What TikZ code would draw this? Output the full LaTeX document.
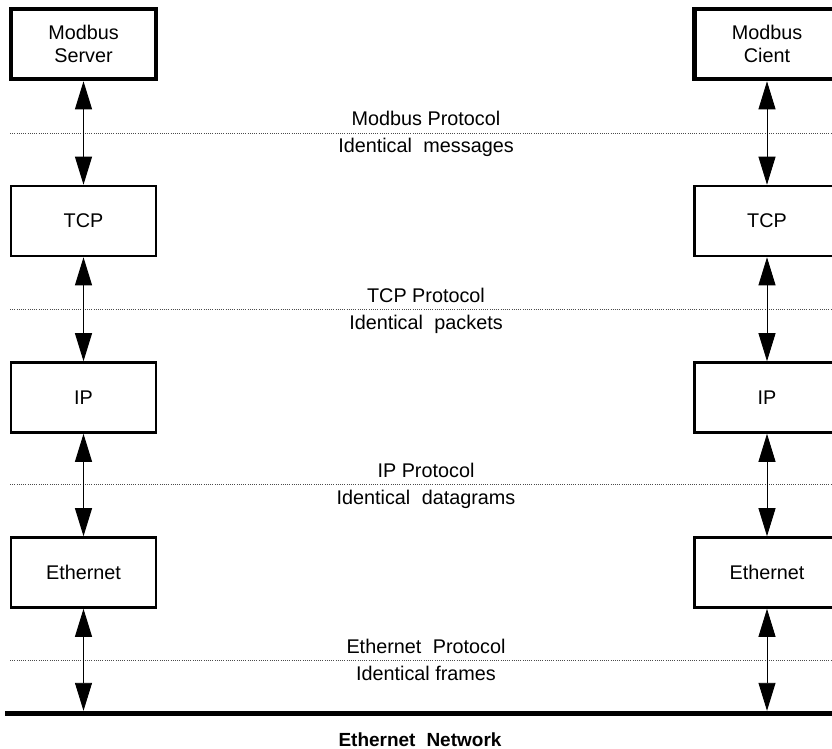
\documentclass[tikz,border=0pt]{standalone}
\usepackage{fontspec}
\setmainfont{Liberation Sans}
\usetikzlibrary{arrows.meta}
\tikzset{
  layerbox/.style={draw, line width=2.6pt, minimum width=145pt, minimum height=70pt, inner sep=0pt, align=center, font=\fontsize{19.8}{23}\selectfont},
  appbox/.style={layerbox, line width=4.6pt},
  biarrow/.style={line width=0.9pt, {Triangle[length=28pt,width=17pt]}-{Triangle[length=28pt,width=17pt]}},
  dotline/.style={draw=black!70, line width=0.8pt, dash pattern=on 1pt off 1.2pt},
  lbl/.style={font=\fontsize{19.8}{23}\selectfont, anchor=base, inner sep=0pt},
}
\begin{document}
\begin{tikzpicture}[x=1pt,y=-1pt]
\useasboundingbox (0,0) rectangle (832,749);
\clip (0,0) rectangle (832,749);
% left stack
\node[appbox]   (ls) at (83.5,44)  {Modbus\\Server};
\node[layerbox] (lt) at (83.5,221) {TCP};
\node[layerbox] (li) at (83.5,397.5) {IP};
\node[layerbox] (le) at (83.5,572.5) {Ethernet};
% right stack
\node[appbox]   (rs) at (767,44)  {Modbus\\Cient};
\node[layerbox] (rt) at (767,221) {TCP};
\node[layerbox] (ri) at (767,397.5) {IP};
\node[layerbox] (re) at (767,572.5) {Ethernet};
% network bar
\node[fill=black, minimum width=840pt, minimum height=5pt, inner sep=0pt] (bar) at (425,713.5) {};
\node[font=\bfseries\fontsize{19}{23}\selectfont, anchor=base, inner sep=0pt] (netlbl) at (420,746) {Ethernet\hspace{0.3em} Network};
% dotted protocol lines
\coordinate (d1a) at (10,133); \coordinate (d1b) at (832,133);
\coordinate (d2a) at (10,309); \coordinate (d2b) at (832,309);
\coordinate (d3a) at (10,484); \coordinate (d3b) at (832,484);
\coordinate (d4a) at (10,660); \coordinate (d4b) at (832,660);
\draw[dotline] (d1a) -- (d1b);
\draw[dotline] (d2a) -- (d2b);
\draw[dotline] (d3a) -- (d3b);
\draw[dotline] (d4a) -- (d4b);
% labels
\node[lbl] (p1) at (426,126) {Modbus Protocol};
\node[lbl] (m1) at (426,153) {Identical\hspace{0.3em} messages};
\node[lbl] (p2) at (426,302) {TCP Protocol};
\node[lbl] (m2) at (426,329) {Identical\hspace{0.3em} packets};
\node[lbl] (p3) at (426,477) {IP Protocol};
\node[lbl] (m3) at (426,504) {Identical\hspace{0.3em} datagrams};
\node[lbl] (p4) at (426,653) {Ethernet\hspace{0.3em} Protocol};
\node[lbl] (m4) at (426,680) {Identical frames};
% arrows
\draw[biarrow] (ls.south) -- (lt.north);
\draw[biarrow] (lt.south) -- (li.north);
\draw[biarrow] (li.south) -- (le.north);
\draw[biarrow] (le.south) -- (le.south |- bar.north);
\draw[biarrow] (rs.south) -- (rt.north);
\draw[biarrow] (rt.south) -- (ri.north);
\draw[biarrow] (ri.south) -- (re.north);
\draw[biarrow] (re.south) -- (re.south |- bar.north);
\end{tikzpicture}
\end{document}
